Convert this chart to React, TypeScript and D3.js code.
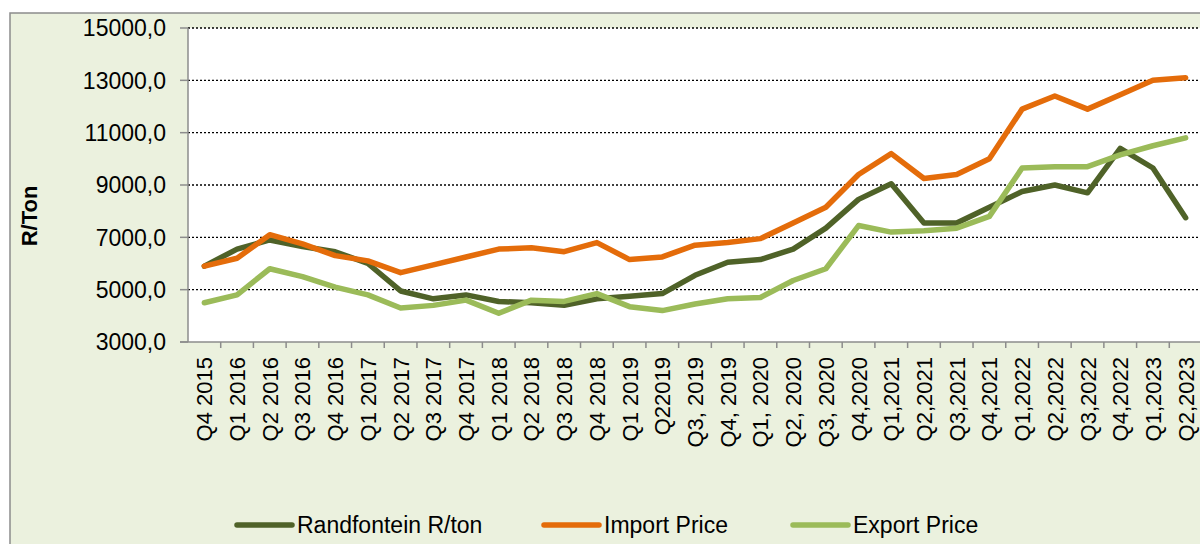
import { useEffect, useRef } from 'react';
import * as d3 from 'd3';

const quarters = [
  'Q4 2015', 'Q1 2016', 'Q2 2016', 'Q3 2016', 'Q4 2016', 'Q1 2017', 'Q2 2017', 'Q3 2017',
  'Q4 2017', 'Q1 2018', 'Q2 2018', 'Q3 2018', 'Q4 2018', 'Q1 2019', 'Q22019', 'Q3, 2019',
  'Q4, 2019', 'Q1, 2020', 'Q2, 2020', 'Q3, 2020', 'Q4,2020', 'Q1,2021', 'Q2,2021', 'Q3,2021',
  'Q4,2021', 'Q1,2022', 'Q2,2022', 'Q3,2022', 'Q4,2022', 'Q1,2023', 'Q2,2023',
];

const randfontein = [
  5900, 6550, 6900, 6650, 6450, 6000, 4950, 4650, 4800, 4550, 4500, 4400, 4650, 4750, 4850, 5550,
  6050, 6150, 6550, 7350, 8450, 9050, 7550, 7550, 8150, 8750, 9000, 8700, 10400, 9650, 7750,
];
const importPrice = [
  5900, 6200, 7100, 6750, 6300, 6100, 5650, 5950, 6250, 6550, 6600, 6450, 6800, 6150, 6250, 6700,
  6800, 6950, 7550, 8150, 9400, 10200, 9250, 9400, 10000, 11900, 12400, 11900, 12450, 13000, 13100,
];
const exportPrice = [
  4500, 4800, 5800, 5500, 5100, 4800, 4300, 4400, 4600, 4100, 4600, 4550, 4850, 4350, 4200, 4450,
  4650, 4700, 5350, 5800, 7450, 7200, 7250, 7350, 7800, 9650, 9700, 9700, 10150, 10500, 10800,
];

const yTicks = [3000, 5000, 7000, 9000, 11000, 13000, 15000];

const series = [
  { name: 'Randfontein R/ton', values: randfontein, color: '#4F6228' },
  { name: 'Import Price', values: importPrice, color: '#E46C0A' },
  { name: 'Export Price', values: exportPrice, color: '#9BBB59' },
];

const FONT = '"Liberation Sans", Arial, sans-serif';

function App() {
  const svgRef = useRef<SVGSVGElement>(null);

  useEffect(() => {
    if (svgRef.current === null) return;
    const svg = d3.select(svgRef.current);
    svg.selectAll('*').remove();

    const left = 188, right = 1202, top = 28, bottom = 342;

    const x = d3.scalePoint<string>().domain(quarters).range([left, right]).padding(0.5);
    const step = x.step();
    const y = d3.scaleLinear().domain([3000, 15000]).range([bottom, top]);

    // chart background + border
    svg.append('rect')
      .attr('x', 10).attr('y', 13).attr('width', 1200).attr('height', 540)
      .attr('fill', '#EBF1DE').attr('stroke', '#8C8C8C').attr('stroke-width', 1.5);

    // plot area
    svg.append('rect')
      .attr('x', left).attr('y', top).attr('width', right - left).attr('height', bottom - top)
      .attr('fill', '#ffffff');

    // gridlines
    svg.append('g').selectAll('line')
      .data(yTicks.filter((d) => d > 3000))
      .enter().append('line')
      .attr('x1', left).attr('x2', right)
      .attr('y1', (d) => y(d)).attr('y2', (d) => y(d))
      .attr('stroke', '#000').attr('stroke-width', 1.3).attr('stroke-dasharray', '2,2');

    // y axis
    const yAxis = svg.append('g');
    yAxis.append('line')
      .attr('x1', left).attr('x2', left).attr('y1', top).attr('y2', bottom)
      .attr('stroke', '#8C8C8C').attr('stroke-width', 1.5);
    yAxis.selectAll('.tick')
      .data(yTicks)
      .enter().append('line')
      .attr('x1', left - 8).attr('x2', left)
      .attr('y1', (d) => y(d)).attr('y2', (d) => y(d))
      .attr('stroke', '#8C8C8C').attr('stroke-width', 1.5);
    yAxis.selectAll('text')
      .data(yTicks)
      .enter().append('text')
      .attr('x', 166).attr('y', (d) => y(d)).attr('dy', '0.36em')
      .attr('text-anchor', 'end')
      .attr('font-family', FONT).attr('font-size', 23).attr('fill', '#000')
      .text((d) => d3.format('.1f')(d).replace('.', ','));

    svg.append('text')
      .attr('transform', 'translate(37, 216) rotate(-90)')
      .attr('text-anchor', 'middle')
      .attr('font-family', FONT).attr('font-size', 22).attr('font-weight', 'bold')
      .text('R/Ton');

    // x axis
    const xAxis = svg.append('g');
    xAxis.append('line')
      .attr('x1', left - 8).attr('x2', right).attr('y1', bottom).attr('y2', bottom)
      .attr('stroke', '#8C8C8C').attr('stroke-width', 1.5);
    xAxis.selectAll('.tick')
      .data(quarters)
      .enter().append('line')
      .attr('x1', (d) => (x(d) as number) + step / 2).attr('x2', (d) => (x(d) as number) + step / 2)
      .attr('y1', bottom).attr('y2', bottom + 6)
      .attr('stroke', '#8C8C8C').attr('stroke-width', 1.5);
    xAxis.selectAll('text')
      .data(quarters)
      .enter().append('text')
      .attr('transform', (d) => `translate(${(x(d) as number) + 8}, 357) rotate(-90)`)
      .attr('text-anchor', 'end')
      .attr('font-family', FONT).attr('font-size', 22).attr('fill', '#000')
      .text((d) => d);

    // lines
    const line = d3.line<number>()
      .x((_, i) => x(quarters[i]) as number)
      .y((d) => y(d));

    svg.append('g').selectAll('path')
      .data(series)
      .enter().append('path')
      .attr('d', (s) => line(s.values))
      .attr('fill', 'none')
      .attr('stroke', (s) => s.color)
      .attr('stroke-width', 5.5)
      .attr('stroke-linejoin', 'round')
      .attr('stroke-linecap', 'round');

    // legend
    const legendX = [237, 544, 793];
    const legend = svg.append('g').selectAll('g')
      .data(series)
      .enter().append('g')
      .attr('transform', (_, i) => `translate(${legendX[i]}, 525)`);
    legend.append('line')
      .attr('x1', 0).attr('x2', 55).attr('y1', 0).attr('y2', 0)
      .attr('stroke', (s) => s.color).attr('stroke-width', 5.5).attr('stroke-linecap', 'round');
    legend.append('text')
      .attr('x', 60).attr('y', 8)
      .attr('font-family', FONT).attr('font-size', 23).attr('fill', '#000')
      .text((s) => s.name);
  }, [svgRef]);

  return (
    <svg
      ref={svgRef}
      width={1200}
      height={544}
      style={{ position: 'absolute', left: 0, top: 0, background: '#fff' }}
    />
  );
}

export default App;
